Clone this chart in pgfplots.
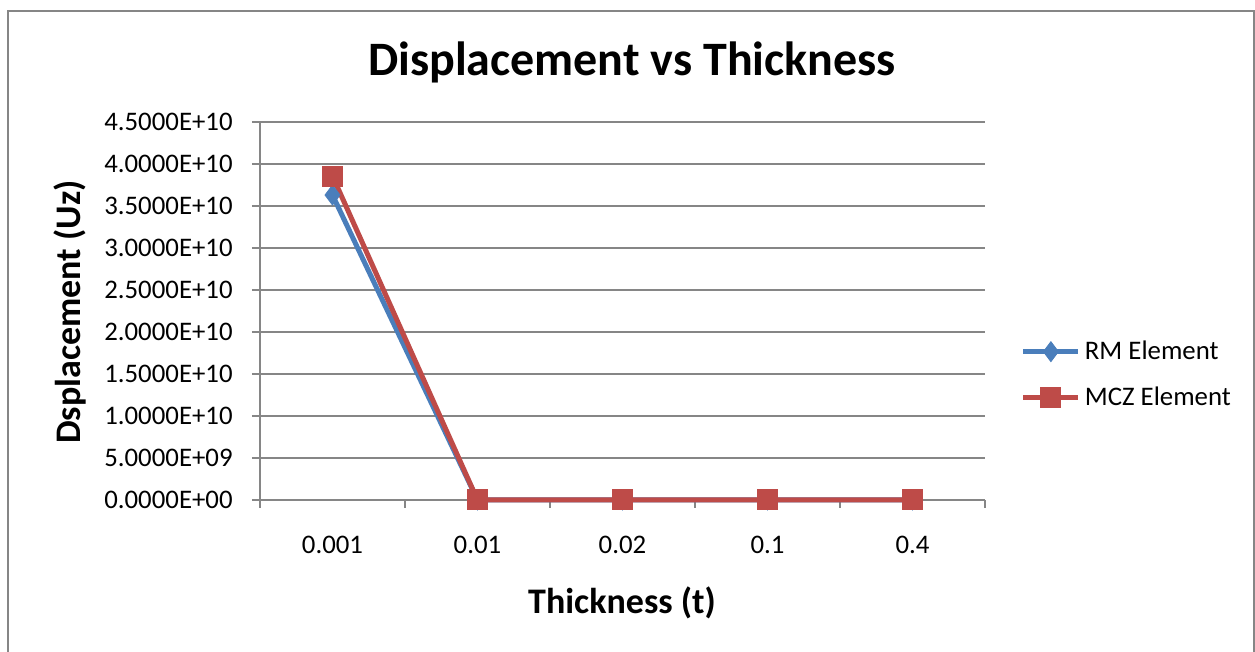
\documentclass[border=0pt]{standalone}
\usepackage{pgfplots}
\pgfplotsset{compat=1.18}
\usepackage{fontspec}
\setmainfont{Carlito}
\definecolor{rmblue}{HTML}{4A7EBB}
\definecolor{mczred}{HTML}{BE4B48}
\definecolor{gridgray}{HTML}{868686}
\begin{document}
\begin{tikzpicture}
\begin{axis}[
  at={(130pt,76pt)}, anchor=south west,
  scale only axis, width=362.5pt, height=189pt,
  xmin=-0.5, xmax=4.5, ymin=0, ymax=4.5e10,
  axis x line=bottom, axis y line=left,
  axis line style={-, gridgray, line width=0.8pt},
  xtick={0,1,2,3,4},
  xticklabels={0.001,0.01,0.02,0.1,0.4},
  minor xtick={-0.5,0.5,1.5,2.5,3.5,4.5},
  major x tick style={draw=none},
  minor tick length=4pt,
  tick align=outside,
  ytick={0,5e9,1e10,1.5e10,2e10,2.5e10,3e10,3.5e10,4e10,4.5e10},
  yticklabels={0.0000E+00,5.0000E+09,1.0000E+10,1.5000E+10,2.0000E+10,2.5000E+10,3.0000E+10,3.5000E+10,4.0000E+10,4.5000E+10},
  major tick length=4pt,
  tick style={gridgray, line width=0.8pt},
  ymajorgrids, grid style={gridgray, line width=0.8pt},
  ticklabel style={font=\fontsize{13.4}{15}\selectfont, text=black},
  yticklabel style={inner sep=0pt, xshift=-9.5pt},
  xticklabel style={inner sep=0pt, yshift=-14pt},
  scaled y ticks=false,
  clip=false,
  legend style={draw=none, fill=none, at={(1.049,0.332)}, anchor=west,
    font=\fontsize{13.4}{15}\selectfont, row sep=8pt, inner sep=0pt,
    /tikz/every even column/.append style={column sep=2pt}},
  legend cell align=left,
  legend image code/.code={\draw[mark repeat=2,mark phase=2] plot coordinates {(0pt,0pt)(13.75pt,0pt)(27.5pt,0pt)};},
]
\addplot[rmblue, line width=2.5pt, mark=diamond*, mark size=5pt, mark options={fill=rmblue, draw=rmblue, line width=0.4pt}]
  coordinates {(0,3.63e10) (1,0) (2,0) (3,0) (4,0)};
\addlegendentry{RM Element}
\addplot[mczred, line width=2.5pt, mark=square*, mark size=5pt, mark options={fill=mczred, draw=mczred, line width=0pt}]
  coordinates {(0,3.857e10) (1,0) (2,0) (3,0) (4,0)};
\addlegendentry{MCZ Element}
\end{axis}
\node[font=\fontsize{24}{28}\selectfont\bfseries] at (316pt,295pt) {Displacement vs Thickness};
\node[font=\fontsize{18}{21}\selectfont\bfseries, rotate=90] at (35pt,170pt) {Dsplacement (Uz)};
\node[font=\fontsize{18}{21}\selectfont\bfseries] at (311pt,24.5pt) {Thickness (t)};
\draw[gridgray, line width=1pt] (4pt,-5pt) -- (4pt,320.5pt) -- (627pt,320.5pt) -- (627pt,-5pt);
\pgfresetboundingbox
\useasboundingbox (0,0) rectangle (627.5pt,326pt);
\end{tikzpicture}
\end{document}
